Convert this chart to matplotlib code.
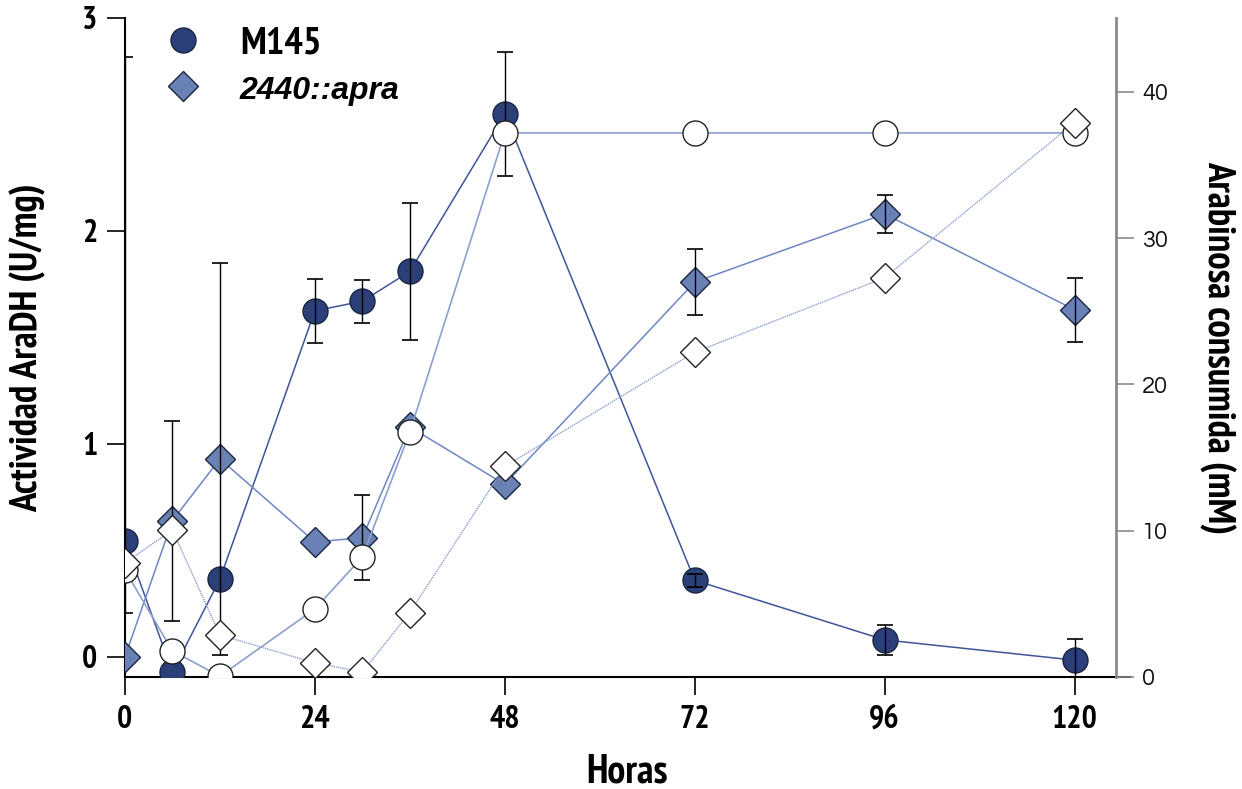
import matplotlib
matplotlib.use("Agg")
import matplotlib.pyplot as plt
from matplotlib import font_manager
from matplotlib.lines import Line2D

# ─── DATA ─────────────────────────────────────────────────────────────────
hours = [0, 6, 12, 24, 30, 36, 48, 72, 96, 120]

# AraDH activity (U/mg), left axis
m145_act = [0.545, -0.07, 0.365, 1.625, 1.67, 1.81, 2.55, 0.36, 0.08, -0.015]
m145_err_lo = [0.34, 0.0, 0.0, 0.15, 0.10, 0.32, 0.29, 0.03, 0.07, 0.10]
m145_err_hi = [2.27, 0.0, 0.0, 0.15, 0.10, 0.32, 0.29, 0.03, 0.07, 0.10]

apra_act = [0.0, 0.64, 0.93, 0.54, 0.56, 1.08, 0.81, 1.76, 2.08, 1.63]
apra_err = [0.0, 0.47, 0.92, 0.0, 0.20, 0.0, 0.0, 0.155, 0.09, 0.15]

# Arabinose consumed (mM), right axis
m145_ara = [7.3, 1.78, 0.05, 4.65, 8.2, 16.75, 37.2, 37.2, 37.2, 37.2]
apra_ara = [7.8, 10.05, 2.87, 0.96, 0.34, 4.4, 14.4, 22.2, 27.3, 37.9]

x_ticks = [0, 24, 48, 72, 96, 120]
left_ticks = [0, 1, 2, 3]
right_ticks = [0, 10, 20, 30, 40]

# ─── STYLE ────────────────────────────────────────────────────────────────
DARK = "#2b4079"
MID = "#6a81b6"
LINE_DARK = "#3e5597"
LINE_MID = "#6f86c4"
LINE_LIGHT = "#8c9fcf"

fonts = font_manager.fontManager.ttflist
installed = {f.name for f in fonts}
bold_ok = {f.name for f in fonts if f.weight in (700, "bold") or
           (isinstance(f.weight, int) and f.weight >= 700)}


def pick(names, need_bold=False):
    pool = bold_ok if need_bold else installed
    for n in names:
        if n in pool:
            return n
    return "Liberation Sans"


NARROW = pick(["Liberation Sans Narrow", "Archivo Narrow", "PT Sans Narrow",
               "Roboto Condensed", "Arial Narrow", "Open Sans Condensed",
               "IBM Plex Sans Condensed", "Barlow Semi Condensed",
               "Encode Sans Condensed", "Liberation Sans"], need_bold=True)
ROUND = pick(["Questrial", "Didact Gothic", "Lato"])


def with_err(x, y, lo, hi):
    """Keep only points that actually carry an error bar."""
    keep = [i for i in range(len(x)) if lo[i] > 0 or hi[i] > 0]
    return ([x[i] for i in keep], [y[i] for i in keep],
            [[lo[i] for i in keep], [hi[i] for i in keep]])


fig = plt.figure(figsize=(12.42, 7.89), dpi=100)
ax = fig.add_axes([0.1006, 0.1420, 0.8092, 0.8352])
ax2 = ax.twinx()

# filled circles: M145 activity
ax.plot(hours, m145_act, color=LINE_DARK, lw=1.1, zorder=2)
ax.plot(hours, m145_act, "o", ms=18, mfc=DARK, mec="#1a2540", mew=1.0,
        ls="none", zorder=3)
# filled diamonds: 2440::apra activity
ax.plot(hours, apra_act, color=LINE_MID, lw=1.1, zorder=2)
ax.plot(hours, apra_act, "D", ms=15.5, mfc=MID, mec="#1a2540", mew=1.0,
        ls="none", zorder=3)

ex, ey, eerr = with_err(hours, m145_act, m145_err_lo, m145_err_hi)
ax.errorbar(ex, ey, yerr=eerr, fmt="none", ecolor="black", elinewidth=1.0,
            capsize=6, capthick=1.2, zorder=4)
ex, ey, eerr = with_err(hours, apra_act, apra_err, apra_err)
ax.errorbar(ex, ey, yerr=eerr, fmt="none", ecolor="black", elinewidth=1.0,
            capsize=6, capthick=1.2, zorder=4)

# open symbols: arabinose consumed
ax2.plot(hours, m145_ara, color=LINE_LIGHT, lw=1.2, zorder=2)
ax2.plot(hours, m145_ara, "o", ms=18, mfc="white", mec="#222222", mew=1.0,
         ls="none", zorder=3)
ax2.plot(hours, apra_ara, color=LINE_LIGHT, lw=1.0, ls=(0, (1, 0.6)), zorder=2)
ax2.plot(hours, apra_ara, "D", ms=15.5, mfc="white", mec="#222222", mew=1.0,
         ls="none", zorder=4)

# ─── AXES ─────────────────────────────────────────────────────────────────
ax.set_xlim(0, 127)
ax.set_ylim(-0.094, 3.0)
ax2.set_ylim(0, 45.06)

for a in (ax, ax2):
    a.spines["top"].set_visible(False)
ax.spines["right"].set_visible(False)
ax2.spines["left"].set_visible(False)
ax2.spines["bottom"].set_visible(False)
ax2.spines["right"].set_position(("data", 125.2))
ax2.spines["right"].set_color("#8a8a8a")
ax2.spines["right"].set_linewidth(2.0)
ax.spines["left"].set_linewidth(1.5)
ax.spines["bottom"].set_linewidth(1.5)

ax.set_xticks(x_ticks)
ax.set_yticks(left_ticks)
ax2.set_yticks(right_ticks)

ax.tick_params(axis="both", direction="out", length=13, width=1.2,
               pad=7, labelsize=23)
ax2.tick_params(axis="y", direction="out", length=13, width=1.2,
                color="#8a8a8a", pad=6, labelsize=17, labelcolor="#111111")

for lab in ax.get_xticklabels() + ax.get_yticklabels():
    lab.set_fontfamily(NARROW)
    lab.set_fontweight("bold")
for lab in ax2.get_yticklabels():
    lab.set_fontfamily(ROUND)

ax.set_xlabel("Horas", fontsize=29, fontweight="bold", family=NARROW,
              va="baseline")
ax.xaxis.set_label_coords(0.5, -0.160)
ax.set_ylabel("Actividad AraDH (U/mg)", fontsize=28, fontweight="bold",
              family=NARROW)
ax.yaxis.set_label_coords(-0.078, 0.5)
ax2.set_ylabel("Arabinosa consumida (mM)", fontsize=28, fontweight="bold",
               family=NARROW, rotation=270, va="center")
ax2.yaxis.set_label_coords(1.087, 0.5)

handles = [
    Line2D([], [], marker="o", ls="none", ms=18, mfc=DARK, mec="#1a2540"),
    Line2D([], [], marker="D", ls="none", ms=15.5, mfc=MID, mec="#1a2540"),
]
leg = ax.legend(handles, ["M145", "2440::apra"], loc="upper left",
                bbox_to_anchor=(0.033, 0.988), frameon=False,
                prop={"family": NARROW, "weight": "bold", "size": 28},
                handlelength=1.3, handletextpad=0.8, labelspacing=0.28,
                borderpad=0, borderaxespad=0)
# the narrow family has no bold italic face, so the strain name uses
# Liberation Sans bold italic
apra_label = leg.get_texts()[1]
apra_label.set_fontfamily("Liberation Sans")
apra_label.set_fontstyle("italic")
apra_label.set_fontsize(23)

fig.savefig("out.png", dpi=100)
